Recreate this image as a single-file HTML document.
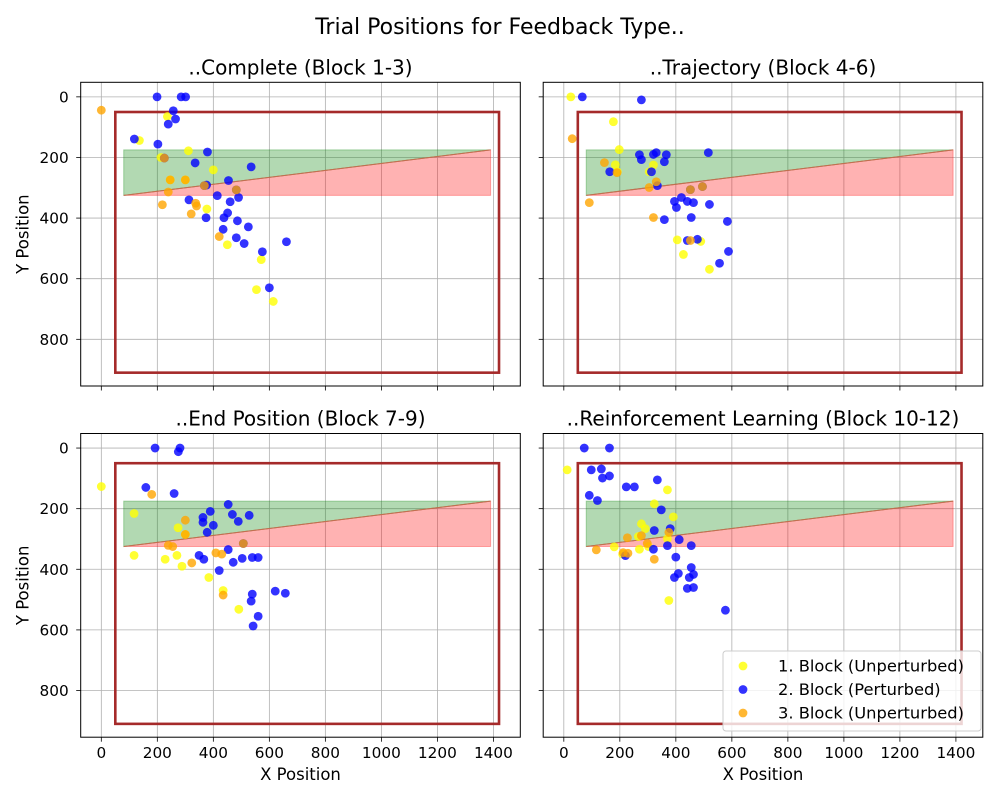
<!DOCTYPE html>
<html><head><meta charset="utf-8"><style>
body{margin:0;background:#fff;}
svg text{font-family:"DejaVu Sans","Liberation Sans",sans-serif;}
</style></head><body>
<svg id="fig" width="1000" height="800" viewBox="0 0 1000 800" xmlns="http://www.w3.org/2000/svg">
<rect width="1000" height="800" fill="#fff"/>
<text x="500" y="34" text-anchor="middle" font-size="22">Trial Positions for Feedback Type..</text>
</svg>
<script>
const titles = ["..Complete (Block 1-3)","..Trajectory (Block 4-6)","..End Position (Block 7-9)","..Reinforcement Learning (Block 10-12)"];
const xTicks = [0,200,400,600,800,1000,1200,1400];
const yTicks = [0,200,400,600,800];
const legendLabels = ["1. Block (Unperturbed)","2. Block (Perturbed)","3. Block (Unperturbed)"];
const colors = ["#ffff00","#0000ff","#ffa500"];
// panel 1
const p1Yellow = [[236,65],[136,144],[311,178],[400,241],[213,200],[377,370],[450,488],[571,537],[554,636],[614,675],[246,274],[300,274]];
const p1Blue = [[199,0],[285,0],[301,0],[257,46],[265,73],[239,90],[118,139],[202,156],[379,182],[335,218],[535,231],[376,291],[454,276],[482,307],[368,293],[414,326],[313,340],[490,332],[460,346],[451,383],[438,399],[374,399],[486,409],[525,429],[435,437],[482,465],[510,484],[575,511],[661,478],[600,630],[225,202]];
const p1Orange = [[0,44],[239,314],[218,356],[337,351],[340,360],[321,386],[421,461],[225,202],[246,274],[300,274],[482,307],[368,293]];
// panel 2
const p2Yellow = [[25,0],[177,82],[198,174],[184,224],[191,247],[405,472],[489,477],[427,520],[520,569],[320,225],[305,247]];
const p2Blue = [[66,0],[277,10],[164,247],[270,191],[277,207],[330,184],[313,247],[334,293],[366,191],[359,214],[395,345],[402,365],[420,332],[441,345],[455,398],[359,405],[441,474],[477,470],[463,349],[516,184],[520,355],[584,411],[556,549],[588,510],[452,306],[495,296],[320,190]];
const p2Orange = [[30,138],[91,349],[145,217],[305,299],[320,398],[452,474],[330,280],[452,306],[495,296],[190,250]];
// panel 3
const p3Yellow = [[0,127],[117,216],[117,354],[228,367],[270,354],[288,390],[384,427],[491,532],[274,263],[300,285],[435,470]];
const p3Blue = [[192,0],[281,0],[275,12],[260,150],[159,130],[389,209],[400,255],[363,245],[363,229],[378,278],[453,186],[468,219],[489,242],[528,222],[349,354],[366,367],[453,335],[471,377],[507,315],[503,364],[539,361],[560,361],[421,404],[539,482],[535,505],[542,587],[560,555],[621,472],[657,479]];
const p3Orange = [[180,153],[239,321],[255,325],[300,238],[300,285],[323,379],[409,346],[430,350],[435,485],[507,315]];
// panel 4
const p4Yellow = [[12,72],[323,184],[370,138],[391,227],[277,250],[291,266],[266,292],[180,326],[270,334],[302,325],[370,299],[375,503],[210,350]];
const p4Blue = [[73,0],[163,0],[98,72],[134,69],[138,99],[163,92],[91,156],[120,173],[223,128],[252,128],[334,105],[348,204],[323,272],[380,266],[412,302],[370,322],[320,334],[455,322],[409,414],[395,427],[455,394],[448,427],[463,417],[441,463],[463,460],[220,355],[577,535],[400,360]];
const p4Orange = [[116,336],[227,296],[277,289],[298,315],[323,367],[375,278],[229,347],[212,345]];
const panels = [[p1Yellow,p1Blue,p1Orange],[p2Yellow,p2Blue,p2Orange],[p3Yellow,p3Blue,p3Orange],[p4Yellow,p4Blue,p4Orange]];
const rectBox = [50,50,1420,910];
const zone = [80,175,1390,325];

const NS="http://www.w3.org/2000/svg";
const svg=document.getElementById('fig');
function mk(tag,attrs,parent){const e=document.createElementNS(NS,tag);for(const k in attrs)e.setAttribute(k,attrs[k]);(parent||svg).appendChild(e);return e;}
const lefts=[80.7,543.2], tops=[82.3,433.5], W=439.6, H=303.7;
const xmin=-73.6,xmax=1496, ymin=-48, ymax=954;
panels.forEach((pd,i)=>{
  const L=lefts[i%2],T=tops[Math.floor(i/2)];
  const g=mk('g',{});
  
  
  const X=v=>L+(v-xmin)/(xmax-xmin)*W;
  const Y=v=>T+(v-ymin)/(ymax-ymin)*H;
  xTicks.forEach(t=>{const l=mk('line',{x1:X(t),x2:X(t),y1:T,y2:T+H,stroke:'#b0b0b0','stroke-width':0.8},g);});
  yTicks.forEach(t=>{const l=mk('line',{x1:L,x2:L+W,y1:Y(t),y2:Y(t),stroke:'#b0b0b0','stroke-width':0.8},g);});
  const gz=mk('polygon',{points:`${X(zone[0])},${Y(zone[3])} ${X(zone[0])},${Y(zone[1])} ${X(zone[2])},${Y(zone[1])}`,fill:'rgba(0,128,0,0.3)',stroke:'rgba(0,128,0,0.3)'},g);
  
  const rz=mk('polygon',{points:`${X(zone[0])},${Y(zone[3])} ${X(zone[2])},${Y(zone[1])} ${X(zone[2])},${Y(zone[3])}`,fill:'rgba(255,0,0,0.3)',stroke:'rgba(255,0,0,0.3)'},g);
  
  const bl=mk('line',{x1:X(zone[0]),y1:Y(zone[3]),x2:X(zone[2]),y2:Y(zone[1]),stroke:'#c07050','stroke-width':1},g);
  
  const rb=mk('rect',{x:X(rectBox[0]),y:Y(rectBox[1]),width:X(rectBox[2])-X(rectBox[0]),height:Y(rectBox[3])-Y(rectBox[1]),fill:'none',stroke:'#a52a2a','stroke-width':2.6},g);
  
  pd.forEach((pts,s)=>{pts.forEach(p=>{
    const c=mk('circle',{cx:X(p[0]),cy:Y(p[1]),r:4.4,fill:colors[s],'fill-opacity':0.8},g);
    
  });});
  const fr=mk('rect',{x:L,y:T,width:W,height:H,fill:'none',stroke:'#000','stroke-width':1},g);
  
  xTicks.forEach(t=>{mk('line',{x1:X(t),x2:X(t),y1:T+H,y2:T+H+4.5,stroke:'#000','stroke-width':0.8},g);
    if(i>=2){const tx=mk('text',{x:X(t),y:T+H+21,'text-anchor':'middle','font-size':15.3},g);tx.textContent=t;}});
  yTicks.forEach(t=>{mk('line',{x1:L-4.5,x2:L,y1:Y(t),y2:Y(t),stroke:'#000','stroke-width':0.8},g);
    if(i%2==0){const tx=mk('text',{x:L-12,y:Y(t)+5.5,'text-anchor':'end','font-size':15.3},g);tx.textContent=t;}});
  const tt=mk('text',{x:L+W/2,y:T-8,'text-anchor':'middle','font-size':20},g);tt.textContent=titles[i];
  
  if(i>=2){const xl=mk('text',{x:L+W/2,y:T+H+43,'text-anchor':'middle','font-size':16.5},g);xl.textContent='X Position';}
  if(i%2==0){const yl=mk('text',{x:0,y:0,'text-anchor':'middle','font-size':16.5,transform:`translate(${L-52},${T+H/2}) rotate(-90)`},g);yl.textContent='Y Position';}
});
const lg=mk('g',{});


mk('rect',{x:723,y:651,width:258,height:80,rx:3,fill:'rgba(255,255,255,0.8)',stroke:'#ccc','stroke-width':1},lg);
legendLabels.forEach((lab,k)=>{
  const y=666+k*23.5;
  const e=mk('g',{},lg);
  
  
  mk('circle',{cx:743,cy:y,r:4.4,fill:colors[k],'fill-opacity':0.8},e);
  const t=mk('text',{x:778,y:y+5.5,'font-size':16.3},e);t.textContent=lab;
});
</script>
</body></html>
